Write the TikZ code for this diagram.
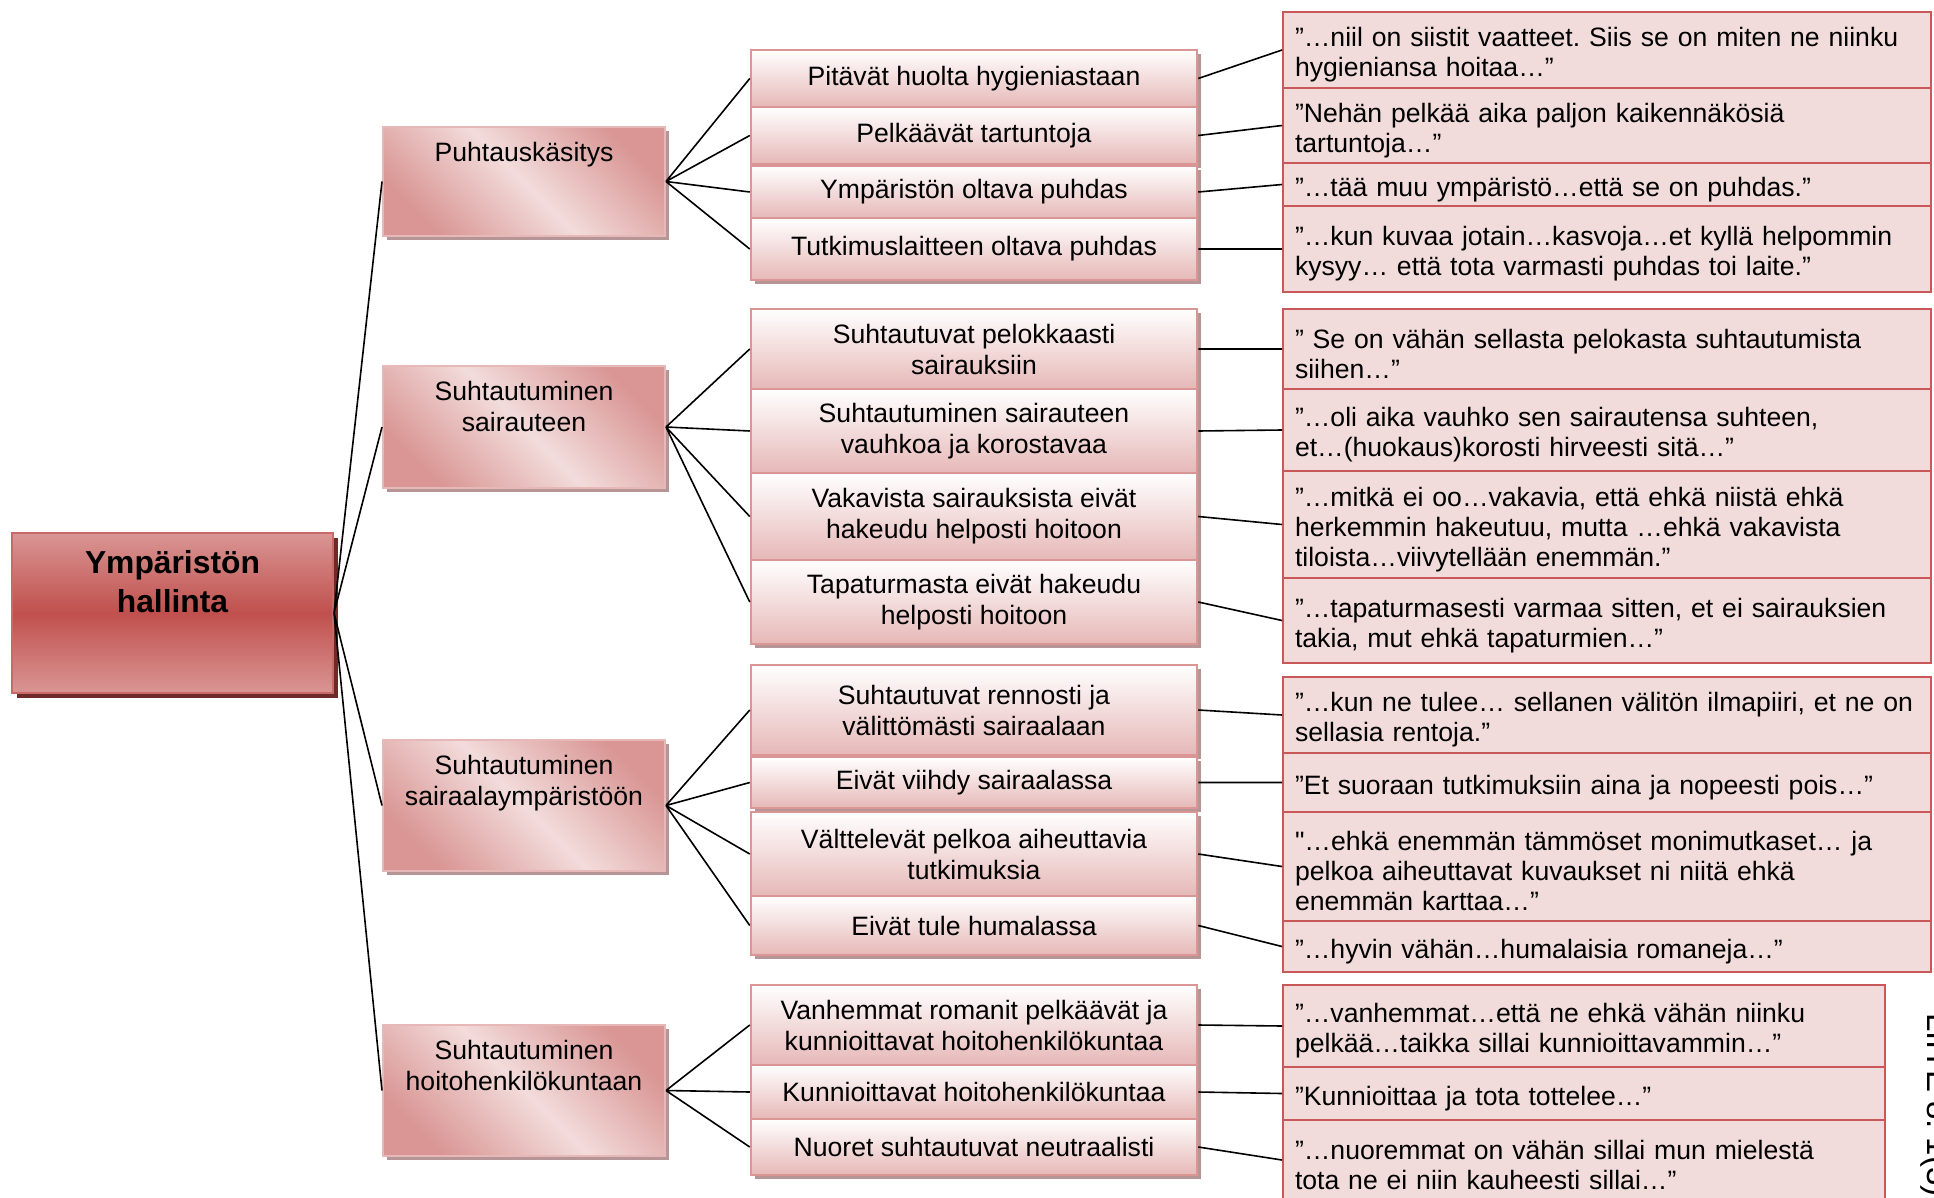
\documentclass[tikz,border=0pt]{standalone}
\usepackage{fontspec}
\setmainfont{Liberation Sans}[Ligatures=TeXOff]
\usepackage{tikz}
\usetikzlibrary{shadows}
\frenchspacing

\definecolor{qfill}{HTML}{F2DCDB}
\definecolor{qline}{HTML}{C9585A}
\definecolor{pinkmid}{HTML}{D99694}
\definecolor{pinklow}{HTML}{E6B8B7}
\definecolor{boxshadow}{HTML}{B59595}
\definecolor{rootred}{HTML}{C0504D}
\definecolor{rootshadow}{HTML}{6E2A28}

\begin{document}
\begin{tikzpicture}[x=1pt, y=-1pt,
    rootbox/.style={draw=rootred!85!white, line width=2pt, top color=pinkmid,
      bottom color=pinkmid, middle color=rootred, minimum width=321pt,
      minimum height=160pt,
      drop shadow={shadow xshift=5pt, shadow yshift=-5pt, fill=rootshadow, opacity=1}},
    roottxt/.style={anchor=north, align=center, inner sep=0pt,
      font=\fontsize{31.8}{39.5}\selectfont\bfseries},
    themebox/.style={draw=pinklow, line width=2pt, top color=pinkmid,
      bottom color=pinkmid, middle color=qfill, shading angle=-45,
      minimum width=282pt,
      drop shadow={shadow xshift=4pt, shadow yshift=-4pt, fill=boxshadow, opacity=1}},
    themetxt/.style={anchor=north, align=center, inner sep=0pt,
      font=\fontsize{26.6}{31}\selectfont},
    subbox/.style={draw=pinkmid, line width=2.5pt, top color=white,
      bottom color=pinklow, minimum width=446pt, inner sep=0pt, align=center,
      font=\fontsize{26.6}{31}\selectfont,
      drop shadow={shadow xshift=4pt, shadow yshift=-4pt, fill=boxshadow, opacity=1}},
    quotebox/.style={draw=qline, line width=2pt, fill=qfill, inner ysep=0pt,
      inner xsep=12pt, text width=624pt, align=left,
      font=\fontsize{26.6}{30}\selectfont,
      execute at begin node={\rule{0pt}{29pt}}},
    lbl/.style={inner sep=0pt, font=\fontsize{33}{38}\selectfont},
    conn/.style={line width=1.6pt, black}
  ]
    \useasboundingbox (0,0) rectangle (1934,1198);
    \clip (0,0) rectangle (1934,1198);
    % root
    \node[rootbox] (ROOT) at (172.5,613) {};
    \node[roottxt] at ([yshift=-18pt]ROOT.north) {Ympäristön\\hallinta};
    % themes
    \node[themebox, minimum height=109pt] (PUH) at (524,181.5) {};
    \node[themebox, minimum height=122pt] (SAI) at (524,427) {};
    \node[themebox, minimum height=131pt] (SRA) at (524,805.5) {};
    \node[themebox, minimum height=131pt] (HOI) at (524,1090.5) {};
    \node[themetxt] at ([yshift=-16pt]PUH.north) {Puhtauskäsitys};
    \node[themetxt] at ([yshift=-16pt]SAI.north) {Suhtautuminen\\sairauteen};
    \node[themetxt] at ([yshift=-16pt]SRA.north) {Suhtautuminen\\sairaalaympäristöön};
    \node[themetxt] at ([yshift=-16pt]HOI.north) {Suhtautuminen\\hoitohenkilökuntaan};
    % sub-categories
    \node[subbox, minimum height=57pt] (PUH1) at (974,78.5) {Pitävät huolta hygieniastaan};
    \node[subbox, minimum height=57pt] (PUH2) at (974,135.5) {Pelkäävät tartuntoja};
    \node[subbox, minimum height=52pt] (PUH3) at (974,192) {Ympäristön oltava puhdas};
    \node[subbox, minimum height=62pt] (PUH4) at (974,249) {Tutkimuslaitteen oltava puhdas};
    \node[subbox, minimum height=80pt] (SAI1) at (974,349) {Suhtautuvat pelokkaasti\\sairauksiin};
    \node[subbox, minimum height=84pt] (SAI2) at (974,431) {Suhtautuminen sairauteen\\vauhkoa ja korostavaa};
    \node[subbox, minimum height=87pt] (SAI3) at (974,516.5) {Vakavista sairauksista eivät\\hakeudu helposti hoitoon};
    \node[subbox, minimum height=84pt] (SAI4) at (974,602) {Tapaturmasta eivät hakeudu\\helposti hoitoon};
    \node[subbox, minimum height=90pt] (SRA1) at (974,710) {Suhtautuvat rennosti ja\\välittömästi sairaalaan};
    \node[subbox, minimum height=51pt] (SRA2) at (974,782.5) {Eivät viihdy sairaalassa};
    \node[subbox, minimum height=84pt] (SRA3) at (974,854) {Välttelevät pelkoa aiheuttavia\\tutkimuksia};
    \node[subbox, minimum height=59pt] (SRA4) at (974,925.5) {Eivät tule humalassa};
    \node[subbox, minimum height=80pt] (HOI1) at (974,1025) {Vanhemmat romanit pelkäävät ja\\kunnioittavat hoitohenkilökuntaa};
    \node[subbox, minimum height=54pt] (HOI2) at (974,1092) {Kunnioittavat hoitohenkilökuntaa};
    \node[subbox, minimum height=56pt] (HOI3) at (974,1147) {Nuoret suhtautuvat neutraalisti};
    % quotes
    \node[quotebox, minimum height=76pt] (QPUH1) at (1607,50)
      {”…niil on siistit vaatteet. Siis se on miten ne niinku\\hygieniansa hoitaa…”};
    \node[quotebox, minimum height=75pt] (QPUH2) at (1607,125.5)
      {”Nehän pelkää aika paljon kaikennäkösiä\\tartuntoja…”};
    \node[quotebox, minimum height=43pt] (QPUH3) at (1607,184.5)
      {”…tää muu ympäristö…että se on puhdas.”};
    \node[quotebox, minimum height=86pt] (QPUH4) at (1607,249)
      {”…kun kuvaa jotain…kasvoja…et kyllä helpommin\\kysyy… että tota varmasti puhdas toi laite.”};
    \node[quotebox, minimum height=80pt] (QSAI1) at (1607,349)
      {” Se on vähän sellasta pelokasta suhtautumista\\siihen…”};
    \node[quotebox, minimum height=82pt] (QSAI2) at (1607,430)
      {”…oli aika vauhko sen sairautensa suhteen,\\et…(huokaus)korosti hirveesti sitä…”};
    \node[quotebox, minimum height=107pt] (QSAI3) at (1607,524.5)
      {”…mitkä ei oo…vakavia, että ehkä niistä ehkä\\herkemmin hakeutuu, mutta …ehkä vakavista\\tiloista…viivytellään enemmän.”};
    \node[quotebox, minimum height=85pt] (QSAI4) at (1607,620.5)
      {”…tapaturmasesti varmaa sitten, et ei sairauksien\\takia, mut ehkä tapaturmien…”};
    \node[quotebox, minimum height=76pt] (QSRA1) at (1607,715)
      {”…kun ne tulee… sellanen välitön ilmapiiri, et ne on\\sellasia rentoja.”};
    \node[quotebox, minimum height=59pt] (QSRA2) at (1607,782.5)
      {”Et suoraan tutkimuksiin aina ja nopeesti pois…”};
    \node[quotebox, minimum height=109pt] (QSRA3) at (1607,866.5)
      {"…ehkä enemmän tämmöset monimutkaset… ja\\pelkoa aiheuttavat kuvaukset ni niitä ehkä\\enemmän karttaa…”};
    \node[quotebox, minimum height=51pt] (QSRA4) at (1607,946.5)
      {”…hyvin vähän…humalaisia romaneja…”};
    \node[quotebox, text width=578pt, minimum height=82pt] (QHOI1) at (1584,1026)
      {”…vanhemmat…että ne ehkä vähän niinku\\pelkää…taikka sillai kunnioittavammin…”};
    \node[quotebox, text width=578pt, minimum height=53pt] (QHOI2) at (1584,1093.5)
      {”Kunnioittaa ja tota tottelee…”};
    \node[quotebox, text width=578pt, minimum height=80pt] (QHOI3) at (1584,1160)
      {”…nuoremmat on vähän sillai mun mielestä\\tota ne ei niin kauheesti sillai…”};
    \node[lbl, rotate=-90, anchor=base west] (LIITE) at (1927,1013) {LIITE 8. 1(3)};
    % connectors
    \draw[conn] (ROOT.east) -- (PUH.west) (ROOT.east) -- (SAI.west)
      (ROOT.east) -- (SRA.west) (ROOT.east) -- (HOI.west);
    \draw[conn] (PUH.east) -- (PUH1.west) (PUH.east) -- (PUH2.west)
      (PUH.east) -- (PUH3.west) (PUH.east) -- (PUH4.west);
    \draw[conn] (SAI.east) -- (SAI1.west) (SAI.east) -- (SAI2.west)
      (SAI.east) -- (SAI3.west) (SAI.east) -- (SAI4.west);
    \draw[conn] (SRA.east) -- (SRA1.west) (SRA.east) -- (SRA2.west)
      (SRA.east) -- (SRA3.west) (SRA.east) -- (SRA4.west);
    \draw[conn] (HOI.east) -- (HOI1.west) (HOI.east) -- (HOI2.west)
      (HOI.east) -- (HOI3.west);
    \draw[conn] (PUH1.east) -- (QPUH1.west) (PUH2.east) -- (QPUH2.west)
      (PUH3.east) -- (QPUH3.west) (PUH4.east) -- (QPUH4.west);
    \draw[conn] (SAI1.east) -- (QSAI1.west) (SAI2.east) -- (QSAI2.west)
      (SAI3.east) -- (QSAI3.west) (SAI4.east) -- (QSAI4.west);
    \draw[conn] (SRA1.east) -- (QSRA1.west) (SRA2.east) -- (QSRA2.west)
      (SRA3.east) -- (QSRA3.west) (SRA4.east) -- (QSRA4.west);
    \draw[conn] (HOI1.east) -- (QHOI1.west) (HOI2.east) -- (QHOI2.west)
      (HOI3.east) -- (QHOI3.west);
  \end{tikzpicture}
\end{document}
